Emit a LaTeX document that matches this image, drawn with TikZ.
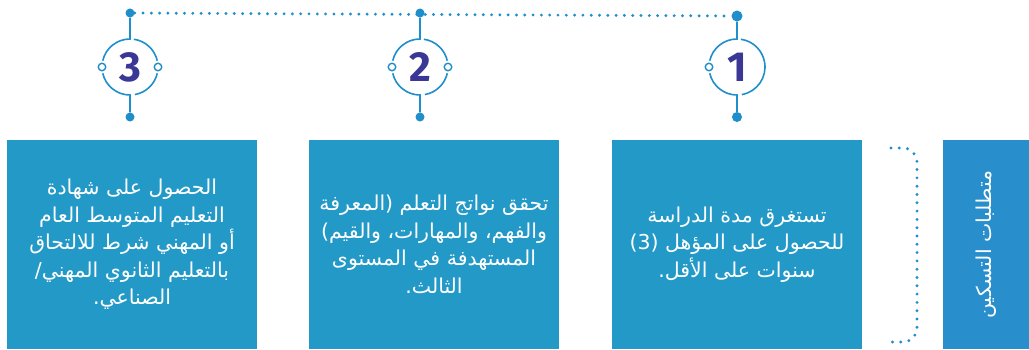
\documentclass[tikz,border=0pt]{standalone}
\usepackage{fontspec}
\usepackage{tikz}
\TeXXeTstate=1
\newfontfamily\arabicfont[Script=Arabic]{DejaVu Sans}
\newfontfamily\numfont{Fira Sans}
\definecolor{boxblue}{HTML}{2399C8}
\definecolor{headblue}{HTML}{288FCC}
\definecolor{lineblue}{HTML}{1F8FCB}
\definecolor{numblue}{HTML}{3A3795}

\begin{document}
\begin{tikzpicture}[x=1pt, y=1pt,
    stepbox/.style={fill=boxblue, minimum width=250pt, minimum height=209pt, inner sep=0pt},
    boxtext/.style={text=white, align=center, font=\arabicfont\fontsize{20.5}{27.5}\selectfont},
    bigdot/.style={circle, fill=lineblue, inner sep=0pt, minimum size=9pt},
    ringhole/.style={circle, draw=lineblue, fill=white, line width=1.4pt, inner sep=0pt, minimum size=7.5pt},
    ring/.style={draw=lineblue, line width=1.6pt},
    dotline/.style={draw=lineblue, line width=3.2pt, line cap=round, dash pattern=on 0pt off 8.3pt},
    numtext/.style={text=numblue, font=\numfont\bfseries\fontsize{42}{42}\selectfont}]

    \useasboundingbox (0,0) rectangle (1029,349);

    % Requirement boxes
    \node (boxA) at (132,104.5) [stepbox, boxtext] {\beginR الحصول على شهادة\endR\\
        \beginR التعليم المتوسط العام\endR\\
        \beginR أو المهني شرط للالتحاق\endR\\
        \beginR بالتعليم الثانوي المهني/\endR\\
        \beginR الصناعي.\endR};
    \node (boxB) at (434,104.5) [stepbox, boxtext] {\beginR تحقق نواتج التعلم (المعرفة\endR\\
        \beginR والفهم، والمهارات، والقيم)\endR\\
        \beginR المستهدفة في المستوى\endR\\
        \beginR الثالث.\endR};
    \node (boxC) at (737,104.5) [stepbox, boxtext] {\beginR تستغرق مدة الدراسة\endR\\
        \beginR للحصول على المؤهل (3)\endR\\
        \beginR سنوات على الأقل.\endR};

    % Heading box (turned)
    \node (head) at (986,104.5) [fill=headblue, boxtext, rotate=90, minimum width=209pt, minimum height=86pt, inner sep=0pt] {\beginR متطلبات التسكين\endR};

    % Bracket between heading and boxes
    \draw[dotline, rounded corners=14pt] (891,201) -- (917,201) -- (917,7) -- (891,7);

    % Step 3
    \coordinate (c3) at (130,282);
    \node (top3) at (130,336) [bigdot] {};
    \node (bot3) at (130,232) [bigdot] {};
    \draw[ring] (top3) -- ([yshift=28pt]c3) arc[start angle=90, end angle=167, radius=28];
    \draw[ring] (bot3) -- ([yshift=-28pt]c3) arc[start angle=270, end angle=193, radius=28];
    \draw[ring] (c3) ++(13:28) arc[start angle=13, end angle=82, radius=28];
    \draw[ring] (c3) ++(280:28) arc[start angle=280, end angle=347, radius=28];
    \node (hl3) at (102,282) [ringhole] {};
    \node (hr3) at (158,282) [ringhole] {};
    \node (num3) at (c3) [numtext] {3};

    % Step 2
    \coordinate (c2) at (420,282);
    \node (top2) at (420,336) [bigdot] {};
    \node (bot2) at (420,232) [bigdot] {};
    \draw[ring] (top2) -- ([yshift=28pt]c2) arc[start angle=90, end angle=167, radius=28];
    \draw[ring] (bot2) -- ([yshift=-28pt]c2) arc[start angle=270, end angle=193, radius=28];
    \draw[ring] (c2) ++(13:28) arc[start angle=13, end angle=82, radius=28];
    \draw[ring] (c2) ++(280:28) arc[start angle=280, end angle=347, radius=28];
    \node (hl2) at (392,282) [ringhole] {};
    \node (hr2) at (448,282) [ringhole] {};
    \node (num2) at (c2) [numtext] {2};

    % Step 1
    \coordinate (c1) at (737,282);
    \node (top1) at (737,333) [bigdot, minimum size=11pt] {};
    \node (bot1) at (737,232) [bigdot, minimum size=10pt] {};
    \draw[ring] (top1) -- ([yshift=28pt]c1) arc[start angle=90, end angle=167, radius=28];
    \draw[ring] (bot1) -- ([yshift=-28pt]c1) arc[start angle=270, end angle=193, radius=28];
    \draw[ring] (c1) ++(280:28) arc[start angle=280, end angle=442, radius=28];
    \node (hl1) at (709,282) [ringhole] {};
    \node (num1) at (c1) [numtext] {1};

    % Dotted line along the steps
    \draw[dotline] (top3) -- (top1);
\end{tikzpicture}
\end{document}
